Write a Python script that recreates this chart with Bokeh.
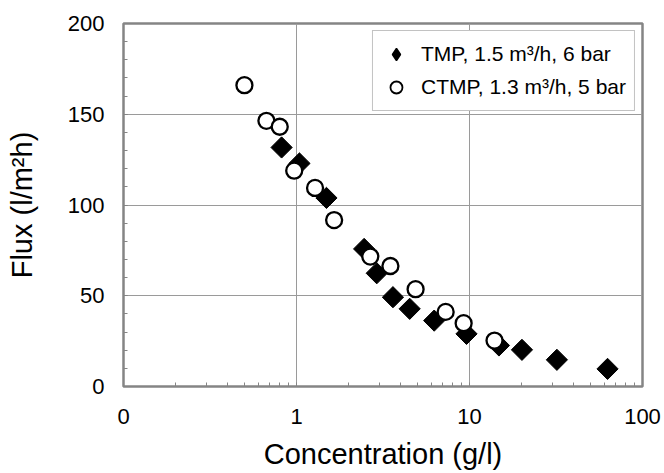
from bokeh.plotting import figure
from bokeh.models import Range1d, FixedTicker, SingleIntervalTicker, Legend, LegendItem
from bokeh.embed import file_html
from bokeh.resources import INLINE
import numpy as np

# ---- data ----
tmp_x = [0.82, 1.04, 1.49, 2.46, 2.91, 3.61, 4.51, 6.25, 9.61, 14.8, 20.1, 32.0, 62.8]
tmp_y = [131.7, 122.9, 103.9, 75.8, 62.4, 49.2, 42.8, 36.3, 29.0, 22.6, 20.2, 14.7, 9.7]
ctmp_x = [0.50, 0.67, 0.80, 0.97, 1.28, 1.65, 2.67, 3.49, 4.88, 7.28, 9.25, 13.95]
ctmp_y = [166.0, 146.4, 143.1, 118.9, 109.4, 91.7, 71.6, 66.4, 53.6, 41.1, 34.9, 25.3]

series_names = ["TMP, 1.5 m\u00b3/h, 6 bar", "CTMP, 1.3 m\u00b3/h, 5 bar"]
x_tick_values = [0.1, 1, 10, 100]
x_tick_labels = ["0", "1", "10", "100"]
x_minor_ticks = [m * d for d in (0.1, 1, 10) for m in range(2, 10)]
x_title = "Concentration (g/l)"
y_title = "Flux (l/m\u00b2h)"

FONT = "Liberation Sans"
GRAY = "#858585"

p = figure(width=664, height=473, x_axis_type="log",
           x_range=Range1d(0.1, 100), y_range=Range1d(0, 200),
           output_backend="svg", toolbar_location=None,
           min_border_left=123, min_border_right=22,
           min_border_top=23, min_border_bottom=87)

p.outline_line_color = GRAY
p.outline_line_width = 2.5
p.background_fill_color = "white"
p.border_fill_color = "white"

# x axis
xt = FixedTicker(ticks=x_tick_values, minor_ticks=x_minor_ticks)
p.xaxis.ticker = xt
p.xgrid.ticker = xt
p.xaxis.major_label_overrides = dict(zip(x_tick_values, x_tick_labels))
# y axis
yt = SingleIntervalTicker(interval=50, num_minor_ticks=5)
p.yaxis.ticker = yt
p.ygrid.ticker = yt

for ax in (p.xaxis, p.yaxis):
    ax.axis_line_color = None
    ax.major_tick_in = 4
    ax.major_tick_out = 0
    ax.minor_tick_in = 4
    ax.minor_tick_out = 0
    ax.major_tick_line_color = GRAY
    ax.minor_tick_line_color = GRAY
    ax.major_label_text_font = FONT
    ax.major_label_text_font_size = "22px"
    ax.major_label_text_color = "black"
    ax.axis_label_text_font = FONT
    ax.axis_label_text_font_size = "29px"
    ax.axis_label_text_font_style = "normal"
    ax.axis_label_text_color = "black"

p.xaxis.axis_label = x_title
p.yaxis.axis_label = y_title
p.xaxis.major_label_standoff = 22
p.yaxis.major_label_standoff = 19
p.xaxis.axis_label_standoff = 11
p.yaxis.axis_label_standoff = 27

p.xgrid.grid_line_color = "#9a9a9a"
p.ygrid.grid_line_color = "#9a9a9a"
p.xgrid.grid_line_width = 1
p.ygrid.grid_line_width = 1

r_tmp = p.scatter(tmp_x, tmp_y, marker="square", angle=np.pi / 4, size=15,
                  fill_color="black", line_color="black", line_width=1)
r_ctmp = p.scatter(ctmp_x, ctmp_y, marker="circle", size=16,
                   fill_color="white", line_color="black", line_width=2.3)

# legend keys (legend does not rotate markers, so use a diamond key)
k_tmp = p.scatter([np.nan], [np.nan], marker="diamond", size=15,
                  fill_color="black", line_color="black", line_width=1.5)
k_ctmp = p.scatter([np.nan], [np.nan], marker="circle", size=15,
                   fill_color="white", line_color="black", line_width=1.8)

legend = Legend(items=[LegendItem(label=series_names[0], renderers=[k_tmp]),
                       LegendItem(label=series_names[1], renderers=[k_ctmp])],
                location="top_right", margin=7, padding=8, spacing=3,
                glyph_width=30, glyph_height=30, label_standoff=10,
                label_text_font=FONT, label_text_font_size="21px",
                label_text_color="black",
                border_line_color=GRAY, border_line_width=1,
                background_fill_color="white", background_fill_alpha=1)
p.add_layout(legend)

open("out.html", "w").write(file_html(p, INLINE))
